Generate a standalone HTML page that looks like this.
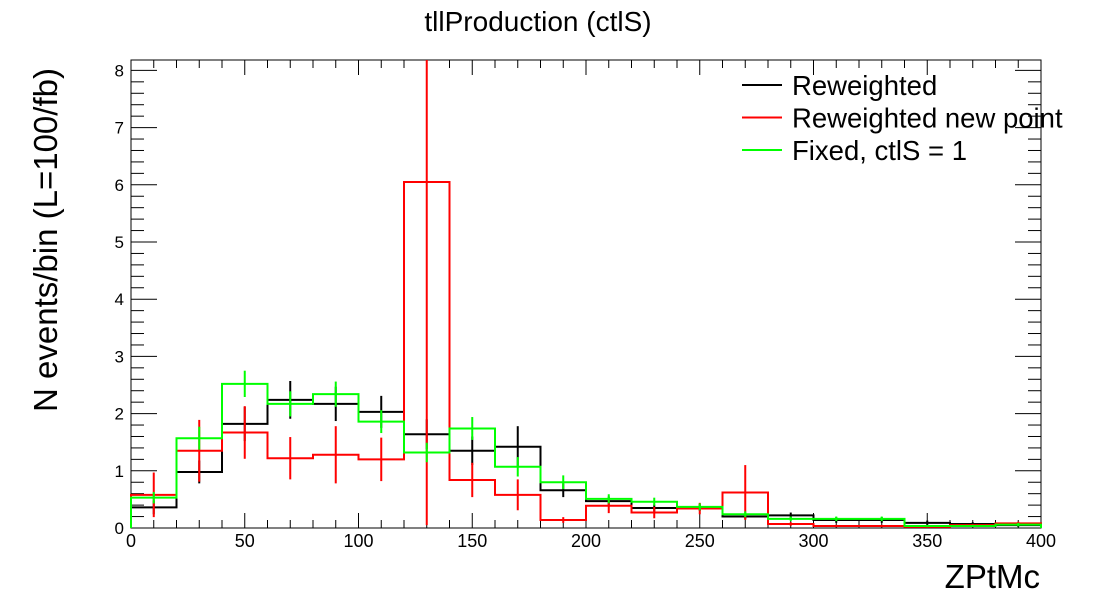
<!DOCTYPE html>
<html><head><meta charset="utf-8"><style>
body{margin:0;background:#fff;}
svg{display:block;font-family:"Liberation Sans",sans-serif;}
</style></head><body>
<svg id="c" width="1096" height="600"></svg>
<script>
const binEdgesStart = 0, binWidth = 20;
const reweighted = [0.36,0.98,1.82,2.24,2.17,2.03,1.64,1.35,1.42,0.66,0.47,0.35,0.36,0.20,0.22,0.14,0.14,0.09,0.07,0.05];
const reweightedErr = [0.12,0.2,0.3,0.33,0.3,0.28,0.26,0.25,0.36,0.12,0.08,0.06,0.06,0.04,0.05,0.05,0.05,0.04,0.03,0.03];
const newPoint = [0.58,1.35,1.67,1.22,1.28,1.20,6.05,0.84,0.58,0.14,0.39,0.27,0.34,0.62,0.07,0.035,0.035,0.02,0.05,0.08];
const newPointErr = [0.39,0.54,0.46,0.37,0.5,0.38,6.0,0.3,0.27,0.05,0.13,0.1,0.1,0.48,0.03,0.02,0.02,0.01,0.02,0.03];
const fixed = [0.53,1.57,2.52,2.17,2.34,1.86,1.32,1.74,1.07,0.80,0.51,0.46,0.37,0.24,0.16,0.16,0.16,0.035,0.035,0.06];
const fixedErr = [0.1,0.2,0.23,0.22,0.22,0.2,0.17,0.2,0.17,0.12,0.08,0.07,0.06,0.05,0.04,0.04,0.04,0.02,0.02,0.03];
const xTicks = [0,50,100,150,200,250,300,350,400];
const yTicks = [0,1,2,3,4,5,6,7,8];
const NS='http://www.w3.org/2000/svg';
const svg=document.getElementById('c');
const L=131,R=1041,B=528,T=60,YMAX=(B-T)/57.2;
const X=v=>L+(v-0)/400*(R-L);
const Y=v=>B-Math.min(v,YMAX)*57.2;
function el(t,a,p){const e=document.createElementNS(NS,t);for(const k in a)e.setAttribute(k,a[k]);(p||svg).appendChild(e);return e;}
const frame=el('rect',{x:L,y:T,width:R-L,height:B-T,fill:'none',stroke:'#000','stroke-width':1});


const ax=el('g',{stroke:'#000','stroke-width':1});


for(let v=0;v<=400;v+=10){const maj=v%50===0;const l=maj?15:8;
 el('line',{x1:X(v),x2:X(v),y1:B,y2:B-l},ax);el('line',{x1:X(v),x2:X(v),y1:T,y2:T+l},ax);}
for(let i=0;i*0.2<=YMAX;i++){const v=i*0.2;const maj=i%5===0;const l=maj?26:13;
 el('line',{x1:L,x2:L+l,y1:Y(v),y2:Y(v)},ax);el('line',{x1:R,x2:R-l,y1:Y(v),y2:Y(v)},ax);}
xTicks.forEach(v=>{const t=el('text',{x:X(v),y:B+19,'text-anchor':'middle','font-size':18});t.textContent=v;
 
 });
yTicks.forEach(v=>{const t=el('text',{x:L-7,y:Y(v)+6,'text-anchor':'end','font-size':17});t.textContent=v;
 
 });
function series(vals,errs,color,name){
 const g=el('g',{stroke:color,'stroke-width':2,fill:'none'});
 
 
 let d='M'+X(0)+','+Y(0);
 vals.forEach((v,i)=>{const x0=X(binEdgesStart+i*binWidth),x1=X(binEdgesStart+(i+1)*binWidth);d+=' L'+x0+','+Y(v)+' L'+x1+','+Y(v);});
 d+=' L'+X(400)+','+Y(0);
 el('path',{d:d},g);
 vals.forEach((v,i)=>{const xc=X(binEdgesStart+(i+0.5)*binWidth);
  const e=el('line',{x1:xc,x2:xc,y1:Y(Math.max(0,v-errs[i])),y2:Y(v+errs[i])},g);
  
  });
}
series(reweighted,reweightedErr,'#000','series-reweighted');
series(newPoint,newPointErr,'#ff0000','series-reweighted-new-point');
series(fixed,fixedErr,'#00ff00','series-fixed');
const tt=el('text',{x:538,y:31,'text-anchor':'middle','font-size':28});tt.textContent='tllProduction (ctlS)';


const yt=el('text',{x:0,y:0,'text-anchor':'middle','font-size':33,transform:'translate(57,240) rotate(-90)'});yt.textContent='N events/bin (L=100/fb)';


const xt=el('text',{x:1040,y:588,'text-anchor':'end','font-size':33});xt.textContent='ZPtMc';


const leg=[['Reweighted','#000'],['Reweighted new point','#ff0000'],['Fixed, ctlS = 1','#00ff00']];
leg.forEach((l,i)=>{const g=el('g',{});
 
 
 const y=85+i*32.5;
 el('line',{x1:742,x2:782,y1:y,y2:y,stroke:l[1],'stroke-width':2},g);
 const t=el('text',{x:792,y:y+10,'font-size':27.5},g);t.textContent=l[0];});
</script>
</body></html>
